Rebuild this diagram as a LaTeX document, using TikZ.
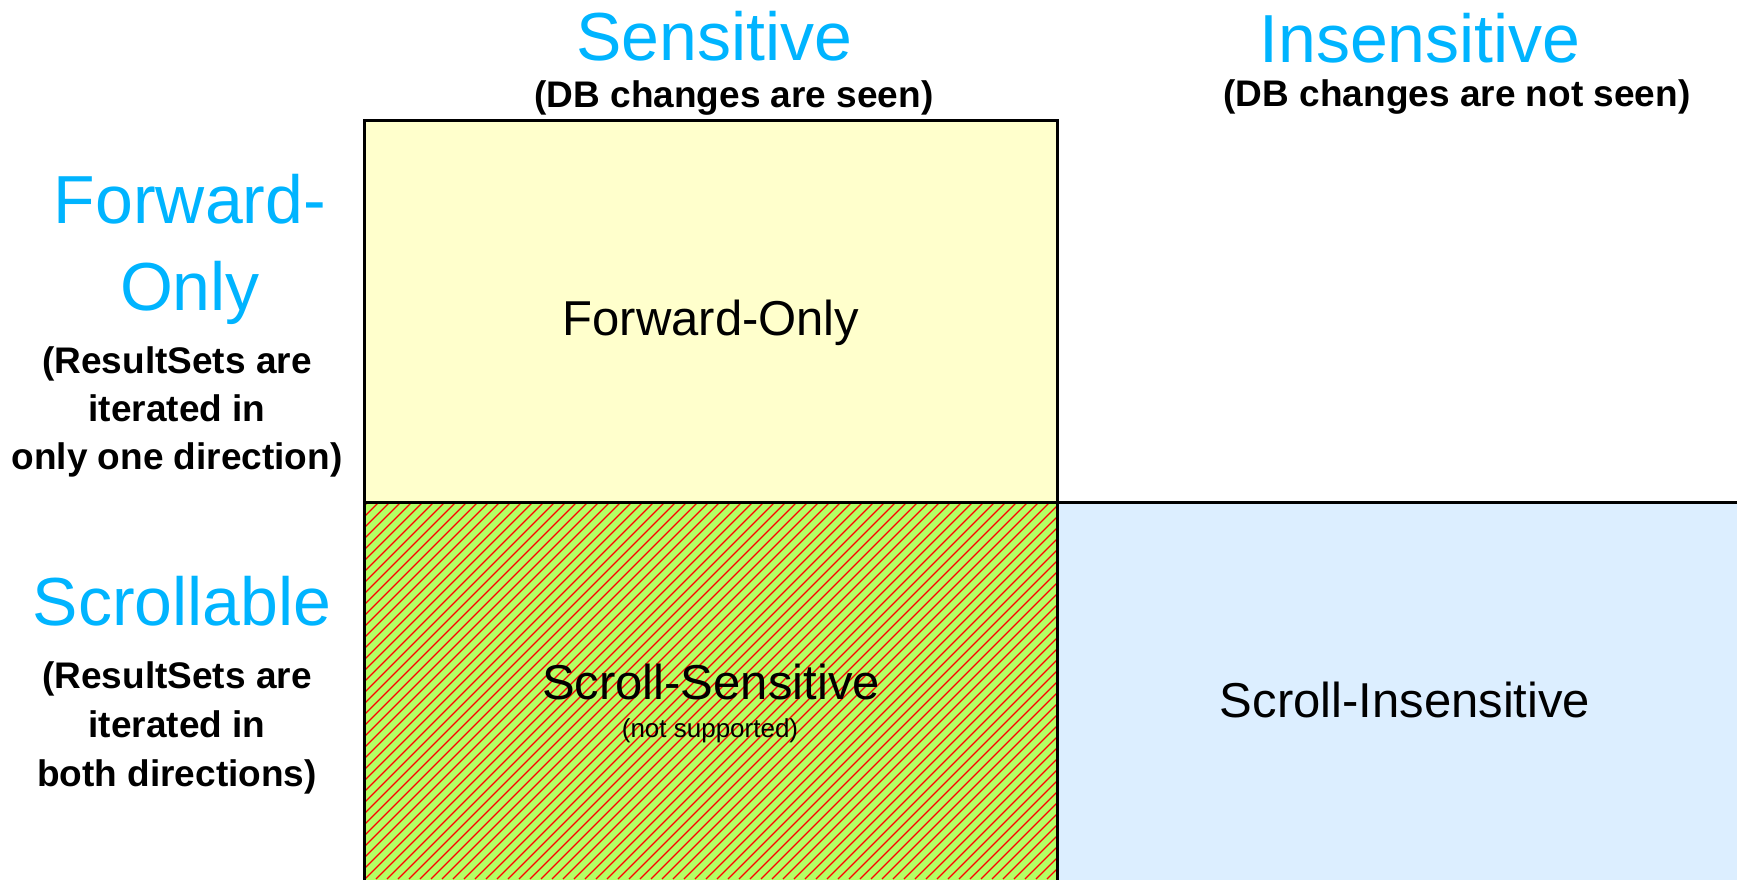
\documentclass[tikz,border=0pt]{standalone}
\usepackage{fontspec}
\setmainfont{Liberation Sans}
\definecolor{headcyan}{RGB}{0,180,255}
\definecolor{fwdyellow}{RGB}{255,255,204}
\definecolor{insblue}{RGB}{220,238,255}
\definecolor{sensgreen}{RGB}{180,255,100}
\definecolor{hatchred}{RGB}{255,0,0}
\begin{document}
\begin{tikzpicture}[x=1pt, y=-1pt,
    every node/.style={inner sep=0pt, anchor=base, align=center},
    head/.style={text=headcyan, font=\fontsize{68}{87}\selectfont},
    note/.style={font=\fontsize{37}{48}\selectfont\bfseries},
    cell/.style={font=\fontsize{49}{60}\selectfont},
    frame/.style={line width=3pt}]

\useasboundingbox (0,0) rectangle (1737,879);

% --- Cells ---
\def\L{364} \def\M{1057} \def\R{1737}
\def\T{120} \def\H{502} \def\B{879}
\fill[fwdyellow] (\L,\T) rectangle (\M,\H);
\fill[insblue] (\M,\H) rectangle (\R+5,\B+5);
\fill[sensgreen] (\L,\H) rectangle (\M,\B+5);

% Hatching of the unsupported cell
\begin{scope}
  \clip (\L,\H) rectangle (\M,\B);
  \foreach \k in {-20,-9,...,1070} {
    \draw[hatchred, line width=1.3pt] (\k,\B) -- ++(420,-420);
  }
\end{scope}

% Borders
\draw[frame] (\L,\T) rectangle (\M,\H);
\draw[frame] (\L,\B+5) -- (\L,\H) -- (\R+5,\H);
\draw[frame] (\M,\H) -- (\M,\B+5);

% --- Column heads ---
\node[head] (sens) at (714,60) {Sensitive};
\node[note] (sensnote) at (734,107) {(DB changes are seen)};
\node[head] (insens) at (1420,62) {Insensitive};
\node[note] (insensnote) at (1457,106) {(DB changes are not seen)};

% --- Row heads (base = last line) ---
\node[head] (fwd) at (190,310) {Forward-\\Only};
\node[note] (fwdnote) at (177,469) {(ResultSets are\\iterated in\\only one direction)};
\node[head] (scroll) at (182,625) {Scrollable};
\node[note, font=\fontsize{37}{49}\selectfont\bfseries] (scrollnote) at (177,786)
  {(ResultSets are\\iterated in\\both directions)};

% --- Cell labels ---
\node[cell] (fwdonly) at (711,335) {Forward-Only};
\node[cell] (scrsens) at (711,699) {Scroll-Sensitive};
\node[font=\fontsize{26}{30}\selectfont] (notsup) at (710,737) {(not supported)};
\node[cell] (scrins) at (1405,717) {Scroll-Insensitive};

\end{tikzpicture}
\end{document}
